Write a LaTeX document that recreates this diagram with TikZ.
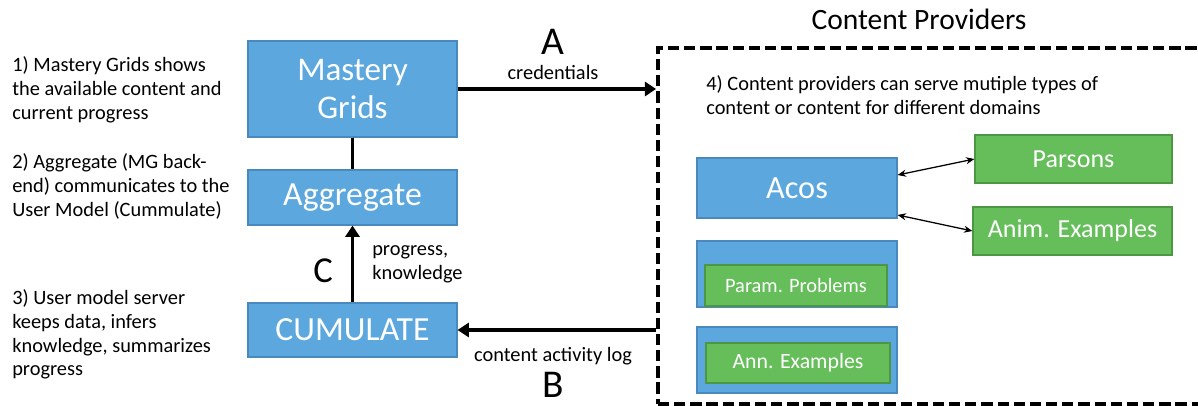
\documentclass[tikz,border=0pt]{standalone}
\usepackage{fontspec}
\setmainfont{Carlito}
\usetikzlibrary{arrows.meta}
\definecolor{boxblue}{RGB}{91,167,222}
\definecolor{boxblueline}{RGB}{74,137,190}
\definecolor{boxgreen}{RGB}{101,190,90}
\definecolor{boxgreenline}{RGB}{76,150,68}
\tikzset{
  bluebox/.style={draw=boxblueline, fill=boxblue, text=white, line width=0.8pt, inner sep=0pt, align=center},
  greenbox/.style={draw=boxgreenline, fill=boxgreen, text=white, line width=0.8pt, inner sep=0pt, align=center},
  note/.style={anchor=north west, align=left, inner sep=0pt, font=\fontsize{14.5}{17}\selectfont},
  bigletter/.style={anchor=base, inner sep=0pt, font=\fontsize{28}{28}\selectfont},
  flow/.style={line width=2.6pt, -{Triangle[length=8pt,width=10pt]}},
  link/.style={line width=0.9pt, {Stealth[length=6pt,width=5pt]}-{Stealth[length=6pt,width=5pt]}}
}
\begin{document}
\begin{tikzpicture}[x=0.025cm, y=-0.025cm]
      \useasboundingbox (0,0) rectangle (1198,406);
      % left column
      \node[bluebox, minimum width=5.225cm, minimum height=2.4cm, font=\fontsize{23.5}{27}\selectfont] (mg) at (352.5,89) {Mastery\\Grids};
      \node[bluebox, minimum width=5.225cm, minimum height=1.375cm, font=\fontsize{24}{28}\selectfont] (agg) at (352.5,197.5) {Aggregate};
      \node[bluebox, minimum width=5.225cm, minimum height=1.35cm, font=\fontsize{24}{28}\selectfont] (cum) at (352.5,330) {CUMULATE};
      % notes
      \node[note] (n1) at (12,56) {1) Mastery Grids shows\\the available content and\\current progress};
      \node[note] (n2) at (12,153) {2) Aggregate (MG back-\\end) communicates to the\\User Model (Cummulate)};
      \node[note] (n3) at (12,289) {3) User model server\\keeps data, infers\\knowledge, summarizes\\progress};
      % content providers
      \node[draw, dashed, line width=2.6pt, dash pattern=on 8pt off 3.5pt, minimum width=13.6cm, minimum height=8.9cm, inner sep=0pt] (prov) at (930,226) {};
      \node[font=\fontsize{21}{24}\selectfont] (provtitle) at (919,19) {Content Providers};
      \node[note] (n4) at (706,75) {4) Content providers can serve mutiple types of\\content or content for different domains};
      \node[bluebox, minimum width=5cm, minimum height=1.5cm, font=\fontsize{23}{26}\selectfont] (acos) at (797,188) {Acos};
      \node[greenbox, minimum width=4.925cm, minimum height=1.2cm, font=\fontsize{18.5}{20}\selectfont] (parsons) at (1073.5,159) {Parsons};
      \node[greenbox, minimum width=4.975cm, minimum height=1.2cm, font=\fontsize{18.5}{20}\selectfont] (anim) at (1072.5,231) {Anim. Examples};
      \node[bluebox, minimum width=5cm, minimum height=1.65cm] (pcrs) at (797,274) {};
      \node[greenbox, minimum width=4.55cm, minimum height=1.025cm, font=\fontsize{14.5}{18}\selectfont] (param) at (796,285.5) {Param. Problems};
      \node[bluebox, minimum width=5cm, minimum height=1.65cm] (webex) at (797,360) {};
      \node[greenbox, minimum width=4.6cm, minimum height=1cm, font=\fontsize{15.5}{18}\selectfont] (ann) at (798,363) {Ann. Examples};
      % connectors
      \draw[line width=2.6pt] (mg) -- (agg);
      \draw[flow] (cum) -- (agg);
      \draw[flow] (mg.east) -- (mg.east -| prov.west);
      \draw[flow] (prov.west |- cum.east) -- (cum.east);
      \draw[link] (acos.east) ++(0,-13) coordinate (a1) (a1) -- (parsons.west);
      \draw[link] (acos.east) ++(0,27) coordinate (a2) (a2) -- (anim.west);
      % labels
      \node[bigletter] (la) at (553,55) {A};
      \node[font=\fontsize{14.5}{17}\selectfont] (lcred) at (553,72) {credentials};
      \node[bigletter] (lb) at (553,397) {B};
      \node[font=\fontsize{14.5}{17}\selectfont] (llog) at (553,356) {content activity log};
      \node[bigletter, font=\fontsize{26}{26}\selectfont] (lc) at (323,283) {C};
      \node[anchor=west, align=left, inner sep=0pt, font=\fontsize{14.5}{17}\selectfont] (lprog) at (372,264) {progress,\\knowledge};
    \end{tikzpicture}
\end{document}
